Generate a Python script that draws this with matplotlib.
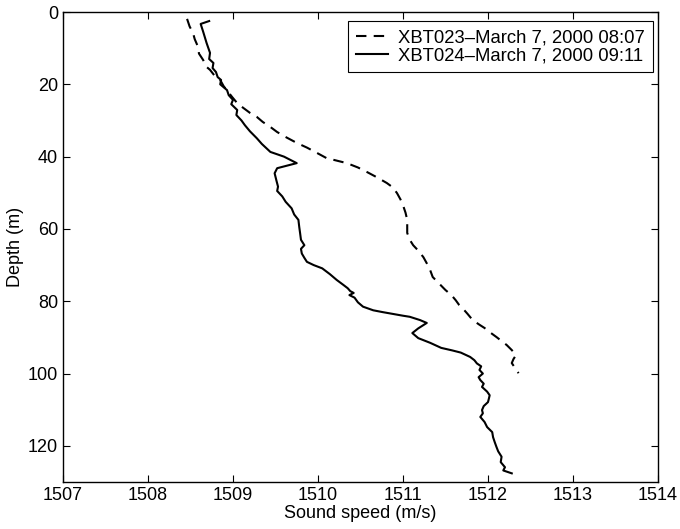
import matplotlib
matplotlib.use("Agg")
import matplotlib.pyplot as plt

plt.rcParams.update({
    "font.family": ["Liberation Sans", "DejaVu Sans"],
    "font.size": 13,
    "xtick.direction": "in", "ytick.direction": "in",
    "xtick.top": True, "ytick.right": True,
    "xtick.major.size": 5, "ytick.major.size": 5,
    "axes.linewidth": 1.0,
})

# XBT023 (dashed) - depth (m), sound speed (m/s)
xbt023_depth = [1.9, 4.0, 5.8, 7.5, 9.7, 11.5, 13.3, 15.0, 16.0, 17.5, 18.8, 20.5,
                22.0, 23.5, 25.2, 26.5, 27.9, 29.0, 30.4, 31.8, 33.2, 34.7, 36.2,
                37.5, 39.0, 40.4, 41.8, 43.0, 44.3, 45.8, 47.3, 48.5, 50.1, 51.8,
                53.4, 55.5, 57.5, 59.5, 61.1, 63.0, 64.5, 66.0, 67.8, 69.5, 71.4,
                73.3, 74.5, 76.9, 78.3, 79.7, 81.0, 81.9, 83.5, 85.2, 86.5, 87.4,
                88.7, 89.9, 91.0, 92.1, 93.5, 94.9, 96.0, 97.1, 98.5, 99.9]
xbt023_speed = [1508.46, 1508.49, 1508.53, 1508.55, 1508.59, 1508.60, 1508.65,
                1508.68, 1508.73, 1508.78, 1508.85, 1508.89, 1508.94, 1508.99,
                1509.05, 1509.12, 1509.20, 1509.28, 1509.35, 1509.44, 1509.52,
                1509.63, 1509.75, 1509.87, 1509.99, 1510.10, 1510.34, 1510.47,
                1510.58, 1510.70, 1510.81, 1510.88, 1510.93, 1510.97, 1511.00,
                1511.03, 1511.05, 1511.05, 1511.05, 1511.08, 1511.12, 1511.18,
                1511.24, 1511.28, 1511.32, 1511.35, 1511.40, 1511.50, 1511.57,
                1511.62, 1511.66, 1511.70, 1511.76, 1511.82, 1511.90, 1511.96,
                1512.03, 1512.10, 1512.16, 1512.22, 1512.28, 1512.33, 1512.30,
                1512.28, 1512.32, 1512.36]

# XBT024 (solid)
xbt024_depth = [2.5, 3.3, 5.5, 8.6, 11.3, 13.0, 14.1, 15.5, 16.6, 18.0, 18.8, 20.0,
                21.6, 23.0, 24.3, 25.5, 27.1, 28.5, 30.0, 31.3, 33.0, 34.9, 36.5,
                38.7, 40.0, 41.8, 43.2, 44.6, 46.5, 48.3, 49.5, 51.0, 52.5, 54.3,
                56.0, 57.5, 59.5, 61.2, 63.0, 64.5, 65.5, 66.8, 68.0, 69.1, 70.0,
                70.9, 72.5, 74.1, 75.5, 76.4, 77.2, 77.7, 78.3, 79.0, 80.3, 81.5,
                82.5, 83.0, 84.0, 84.3, 85.2, 86.0, 87.5, 88.8, 90.2, 91.5, 92.9,
                93.6, 94.2, 95.4, 96.3, 97.2, 98.0, 99.0, 100.0, 101.0, 101.8,
                102.8, 103.7, 105.0, 106.0, 107.0, 107.9, 109.0, 110.1, 111.0,
                112.0, 113.4, 114.8, 116.2, 117.6, 119.0, 120.3, 121.5, 123.0,
                124.5, 125.9, 126.8, 127.6]
xbt024_speed = [1508.72, 1508.62, 1508.65, 1508.69, 1508.73, 1508.72, 1508.77,
                1508.76, 1508.80, 1508.82, 1508.86, 1508.85, 1508.93, 1508.95,
                1509.00, 1508.98, 1509.05, 1509.04, 1509.10, 1509.14, 1509.20,
                1509.28, 1509.34, 1509.44, 1509.60, 1509.75, 1509.52, 1509.49,
                1509.51, 1509.53, 1509.52, 1509.58, 1509.62, 1509.69, 1509.72,
                1509.77, 1509.78, 1509.79, 1509.80, 1509.84, 1509.80, 1509.81,
                1509.84, 1509.87, 1509.95, 1510.05, 1510.14, 1510.22, 1510.30,
                1510.35, 1510.38, 1510.42, 1510.37, 1510.43, 1510.47, 1510.53,
                1510.65, 1510.76, 1511.00, 1511.08, 1511.20, 1511.28, 1511.18,
                1511.11, 1511.18, 1511.32, 1511.45, 1511.58, 1511.68, 1511.79,
                1511.84, 1511.87, 1511.92, 1511.90, 1511.94, 1511.89, 1511.91,
                1511.95, 1511.93, 1511.99, 1512.02, 1512.01, 1512.00, 1511.95,
                1511.93, 1511.94, 1511.91, 1511.96, 1511.99, 1512.05, 1512.06,
                1512.08, 1512.10, 1512.12, 1512.16, 1512.15, 1512.20, 1512.18,
                1512.28]

labels = ["XBT023\u2013March 7, 2000 08:07", "XBT024\u2013March 7, 2000 09:11"]
xticks = [1507, 1508, 1509, 1510, 1511, 1512, 1513, 1514]
yticks = [0, 20, 40, 60, 80, 100, 120]

fig = plt.figure(figsize=(6.8, 5.29), dpi=100)
ax = fig.add_axes([0.0926, 0.0888, 0.875, 0.8885])

ax.plot(xbt023_speed, xbt023_depth, color="black", lw=1.5,
        dashes=(5, 3.5), label=labels[0])
ax.plot(xbt024_speed, xbt024_depth, color="black", lw=1.5, label=labels[1])

ax.set_xlim(1507, 1514)
ax.set_ylim(130, 0)
ax.set_xticks(xticks)
ax.set_yticks(yticks)
ax.set_xlabel("Sound speed (m/s)", labelpad=1)
ax.set_ylabel("Depth (m)", labelpad=3)

leg = ax.legend(loc="upper right", bbox_to_anchor=(0.9916, 0.981),
                fancybox=False, edgecolor="black", framealpha=1,
                borderaxespad=0, handlelength=1.7, borderpad=0.45,
                labelspacing=0.05, handletextpad=0.55, fontsize=13.3)
leg.get_frame().set_linewidth(0.8)

fig.savefig("out.png", dpi=100)
